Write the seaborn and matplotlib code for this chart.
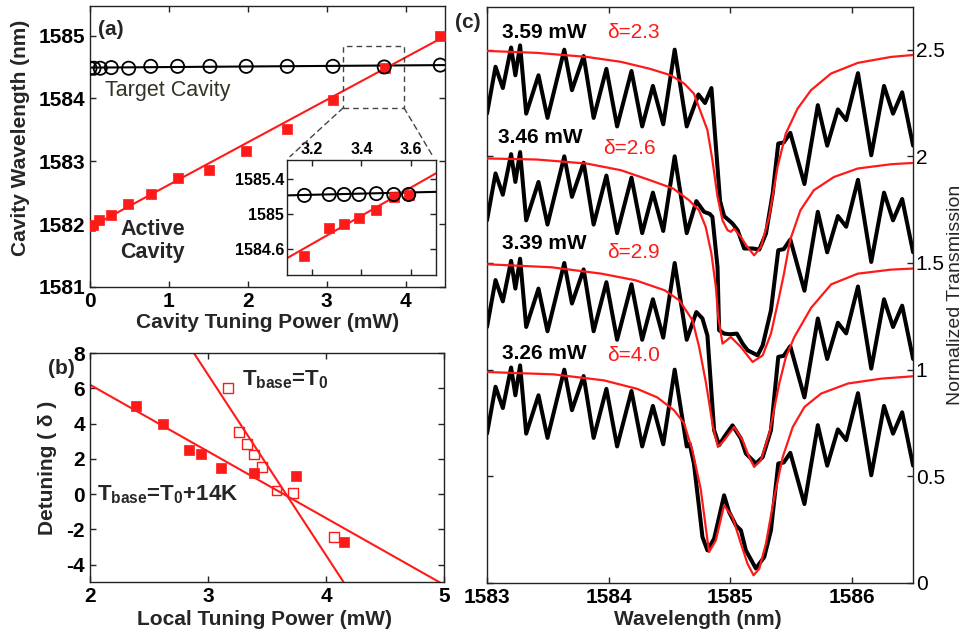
import seaborn as sns
import matplotlib.pyplot as plt
from matplotlib.patches import Rectangle, ConnectionPatch

# ---- (a) cavity wavelength vs cavity tuning power ----
target_power = [0.0, 0.05, 0.13, 0.27, 0.49, 0.77, 1.11, 1.52, 1.98, 2.50, 3.08, 3.73, 4.44]
target_wl = [1584.48, 1584.48, 1584.48, 1584.49, 1584.48, 1584.51, 1584.51, 1584.51,
             1584.51, 1584.51, 1584.51, 1584.50, 1584.53]
active_power = [0.0, 0.04, 0.12, 0.27, 0.48, 0.77, 1.11, 1.51, 1.98, 2.50, 3.08, 3.74, 4.44]
active_wl = [1581.97, 1581.99, 1582.06, 1582.14, 1582.32, 1582.48, 1582.74, 1582.86,
             1583.16, 1583.51, 1583.98, 1584.48, 1585.00]
fit_power = [0.0, 4.5]
target_fit = [1584.49, 1584.53]
active_fit = [1581.95, 1584.99]
zoom_power = [3.21, 3.98]
zoom_wl = [1583.85, 1584.83]

# inset of (a)
inset_power = [3.17, 3.27, 3.33, 3.39, 3.46, 3.53, 3.59]
inset_target_wl = [1585.21, 1585.22, 1585.22, 1585.22, 1585.23, 1585.22, 1585.22]
inset_active_wl = [1584.52, 1584.84, 1584.89, 1584.96, 1585.05, 1585.19, 1585.22]
inset_fit_power = [3.1, 3.7]
inset_target_fit = [1585.21, 1585.25]
inset_active_fit = [1584.50, 1585.46]

# ---- (b) detuning vs local tuning power ----
hot_power = [2.39, 2.62, 2.84, 2.94, 3.11, 3.39, 3.75, 4.15]
hot_detuning = [5.0, 4.0, 2.5, 2.3, 1.5, 1.2, 1.0, -2.7]
base_power = [3.17, 3.26, 3.33, 3.39, 3.46, 3.58, 3.72, 4.07]
base_detuning = [6.0, 3.5, 2.85, 2.25, 1.55, 0.2, 0.05, -2.45]
hot_fit_power = [2.0, 5.0]
hot_fit_detuning = [6.2, -5.14]
base_fit_power = [2.88, 4.15]
base_fit_detuning = [8.0, -5.0]

# ---- (c) transmission spectra (normalized, stacked) ----
fringe_left_wl = [1583.000, 1583.070, 1583.130, 1583.198, 1583.233, 1583.272, 1583.322,
                  1583.423, 1583.497, 1583.635, 1583.698, 1583.794, 1583.876, 1583.981,
                  1584.069, 1584.187, 1584.275, 1584.363, 1584.448, 1584.542, 1584.641]
fringe_left_t = [0.70, 0.92, 0.82, 1.01, 0.88, 1.02, 0.70, 0.88, 0.68, 1.00, 0.81,
                 0.97, 0.68, 0.91, 0.64, 0.90, 0.64, 0.83, 0.65, 1.00, 0.64]
fringe_right_wl = [1585.393, 1585.438, 1585.492, 1585.608, 1585.718, 1585.795, 1585.883,
                   1585.951, 1586.048, 1586.157, 1586.262, 1586.336, 1586.411, 1586.501]
fringe_right_t = [0.56, 0.565, 0.61, 0.37, 0.74, 0.55, 0.72, 0.67, 0.89, 0.505,
                  0.83, 0.70, 0.80, 0.55]

dip_wl_359 = [1584.737, 1584.791, 1584.844, 1584.915, 1584.948, 1585.017, 1585.059,
              1585.113, 1585.182, 1585.237, 1585.292, 1585.347]
dip_t_359 = [0.79, 0.75, 0.82, 0.29, 0.22, 0.185, 0.154, 0.068, 0.068, 0.063, 0.138, 0.326]
dip_wl_346 = [1584.720, 1584.783, 1584.830, 1584.852, 1584.894, 1584.907, 1584.948,
              1584.998, 1585.053, 1585.100, 1585.141, 1585.223, 1585.265, 1585.333]
dip_t_346 = [0.79, 0.74, 0.73, 0.716, 0.48, 0.185, 0.169, 0.166, 0.169, 0.122, 0.091,
             0.067, 0.114, 0.278]
dip_wl_339 = [1584.720, 1584.770, 1584.811, 1584.866, 1584.907, 1584.948, 1585.017,
              1585.086, 1585.127, 1585.209, 1585.265, 1585.333]
dip_t_339 = [0.77, 0.74, 0.66, 0.216, 0.146, 0.184, 0.239, 0.177, 0.107, 0.06, 0.09, 0.216]
dip_wl_326 = [1584.665, 1584.700, 1584.742, 1584.770, 1584.811, 1584.866, 1584.907,
              1584.948, 1584.989, 1585.045, 1585.086, 1585.127, 1585.209, 1585.278, 1585.333]
dip_t_326 = [0.653, 0.56, 0.356, 0.216, 0.153, 0.208, 0.309, 0.411, 0.333, 0.27, 0.247,
             0.153, 0.068, 0.122, 0.247]

fit_wl_359 = [1583.0, 1583.41, 1583.82, 1584.10, 1584.34, 1584.51, 1584.62, 1584.70,
              1584.74, 1584.811, 1584.852, 1584.894, 1584.935, 1584.976, 1585.003,
              1585.03, 1585.085, 1585.14, 1585.195, 1585.25, 1585.318, 1585.387,
              1585.455, 1585.552, 1585.662, 1585.826, 1586.046, 1586.319, 1586.5]
fit_t_359 = [0.994, 0.985, 0.966, 0.943, 0.91, 0.88, 0.841, 0.794, 0.732, 0.623, 0.482,
             0.31, 0.20, 0.154, 0.146, 0.161, 0.122, 0.075, 0.036, 0.075, 0.216, 0.45,
             0.607, 0.724, 0.81, 0.888, 0.938, 0.966, 0.975]
fit_wl_346 = [1583.0, 1583.41, 1583.82, 1584.10, 1584.34, 1584.53, 1584.66, 1584.742,
              1584.797, 1584.844, 1584.88, 1584.90, 1584.935, 1585.003, 1585.086,
              1585.182, 1585.265, 1585.333, 1585.40, 1585.44, 1585.49, 1585.575,
              1585.685, 1585.85, 1586.046, 1586.32, 1586.5]
fit_t_346 = [0.99, 0.985, 0.966, 0.935, 0.888, 0.849, 0.794, 0.747, 0.669, 0.544, 0.388,
             0.247, 0.122, 0.153, 0.106, 0.036, 0.067, 0.169, 0.341, 0.45, 0.607, 0.747,
             0.841, 0.903, 0.943, 0.963, 0.969]
fit_wl_339 = [1583.0, 1583.53, 1583.94, 1584.22, 1584.46, 1584.58, 1584.688, 1584.743,
              1584.80, 1584.857, 1584.897, 1584.948, 1585.03, 1585.10, 1585.154,
              1585.195, 1585.25, 1585.319, 1585.401, 1585.456, 1585.525, 1585.663,
              1585.828, 1586.046, 1586.32, 1586.5]
fit_t_339 = [0.994, 0.98, 0.95, 0.919, 0.872, 0.825, 0.732, 0.606, 0.435, 0.231, 0.138,
             0.169, 0.231, 0.169, 0.09, 0.044, 0.075, 0.20, 0.435, 0.56, 0.653, 0.79,
             0.90, 0.95, 0.969, 0.974]
fit_wl_326 = [1583.0, 1583.547, 1583.959, 1584.234, 1584.399, 1584.536, 1584.618,
              1584.688, 1584.756, 1584.80, 1584.824, 1584.88, 1584.948, 1585.017,
              1585.086, 1585.14, 1585.19, 1585.237, 1585.292, 1585.36, 1585.43,
              1585.512, 1585.608, 1585.745, 1585.965, 1586.24, 1586.5]
fit_t_326 = [0.989, 0.978, 0.95, 0.91, 0.87, 0.81, 0.75, 0.62, 0.44, 0.25, 0.145, 0.20,
             0.364, 0.309, 0.185, 0.091, 0.036, 0.067, 0.185, 0.403, 0.591, 0.731,
             0.825, 0.888, 0.935, 0.958, 0.969]

power_labels = ['3.59 mW', '3.46 mW', '3.39 mW', '3.26 mW']
delta_labels = ['δ=2.3', 'δ=2.6', 'δ=2.9', 'δ=4.0']
offsets = [1.5, 1.0, 0.5, 0.0]
dips = [(dip_wl_359, dip_t_359), (dip_wl_346, dip_t_346),
        (dip_wl_339, dip_t_339), (dip_wl_326, dip_t_326)]
fits = [(fit_wl_359, fit_t_359), (fit_wl_346, fit_t_346),
        (fit_wl_339, fit_t_339), (fit_wl_326, fit_t_326)]

RED = '#ff1a1a'

sns.set_style('ticks')
plt.rcParams['font.family'] = ['Liberation Sans', 'DejaVu Sans']
plt.rcParams['font.weight'] = 'bold'
plt.rcParams['axes.labelweight'] = 'bold'
plt.rcParams['axes.unicode_minus'] = False
plt.rcParams['mathtext.fontset'] = 'custom'
plt.rcParams['mathtext.rm'] = 'Liberation Sans:bold'
plt.rcParams['mathtext.it'] = 'Liberation Sans:bold'
plt.rcParams['mathtext.bf'] = 'Liberation Sans:bold'
plt.rcParams['axes.edgecolor'] = '#222222'
plt.rcParams['axes.linewidth'] = 1.0

fig = plt.figure(figsize=(9.7, 6.38), dpi=100)


def px_axes(left, top, right, bottom):
    return fig.add_axes([left / 970, 1 - bottom / 638, (right - left) / 970, (bottom - top) / 638])


def box_ticks(ax, size=15):
    ax.tick_params(direction='in', top=True, right=True, length=4, width=1,
                   labelsize=size, colors='#222222', labelcolor='black')


# ---------------- panel (a) ----------------
ax_a = px_axes(90, 6, 445, 287)
sns.lineplot(x=fit_power, y=target_fit, color='black', lw=1.5, ax=ax_a)
sns.lineplot(x=fit_power, y=active_fit, color=RED, lw=1.5, ax=ax_a)
sns.scatterplot(x=active_power, y=active_wl, marker='s', s=60, color=RED,
                edgecolor=RED, linewidth=0.5, ax=ax_a, zorder=3)
sns.scatterplot(x=target_power, y=target_wl, marker='o', s=90, facecolors='none',
                edgecolor='black', linewidth=1.3, ax=ax_a, zorder=4)
ax_a.set_xlim(0, 4.5)
ax_a.set_ylim(1581, 1585.47)
ax_a.set_xticks([0, 1, 2, 3, 4], ['0', '1', '2', '3', '4'])
ax_a.set_yticks([1581, 1582, 1583, 1584, 1585], ['1581', '1582', '1583', '1584', '1585'])
box_ticks(ax_a)
ax_a.set_xlabel('Cavity Tuning Power (mW)', fontsize=15)
ax_a.set_ylabel('Cavity Wavelength (nm)', fontsize=15)
ax_a.xaxis.set_label_coords(0.5, -0.093)
ax_a.yaxis.set_label_coords(-0.17, 0.53)
ax_a.text(0.023, 0.915, '(a)', transform=ax_a.transAxes, fontsize=15, va='center')
ax_a.text(0.042, 0.70, 'Target Cavity', transform=ax_a.transAxes, fontsize=15.5,
          fontweight='normal', color='#333326', va='center')
ax_a.text(0.085, 0.164, 'Active\nCavity', transform=ax_a.transAxes, fontsize=15.5,
          va='center', linespacing=1.1)
ax_a.add_patch(Rectangle((zoom_power[0], zoom_wl[0]), zoom_power[1] - zoom_power[0],
                         zoom_wl[1] - zoom_wl[0], fill=False, ls=(0, (4, 3)),
                         lw=1, ec='#444444', zorder=2))

# inset
ax_in = px_axes(287, 160, 436, 275)
sns.lineplot(x=inset_fit_power, y=inset_target_fit, color='black', lw=1.5, ax=ax_in)
sns.lineplot(x=inset_fit_power, y=inset_active_fit, color=RED, lw=1.5, ax=ax_in)
sns.scatterplot(x=inset_power, y=inset_active_wl, marker='s', s=60, color=RED,
                edgecolor=RED, linewidth=0.5, ax=ax_in, zorder=3)
sns.scatterplot(x=inset_power, y=inset_target_wl, marker='o', s=90, facecolors='none',
                edgecolor='black', linewidth=1.3, ax=ax_in, zorder=4)
ax_in.set_xlim(3.1, 3.7)
ax_in.set_ylim(1584.31, 1585.61)
ax_in.set_xticks([3.2, 3.4, 3.6], ['3.2', '3.4', '3.6'])
ax_in.set_yticks([1584.6, 1585.0, 1585.4], ['1584.6', '1585', '1585.4'])
box_ticks(ax_in, size=11.5)
ax_in.tick_params(labeltop=True, labelbottom=False, pad=2)
for xa, xb in [(zoom_power[0], 0.02), (zoom_power[1], 0.98)]:
    con = ConnectionPatch(xyA=(xa, zoom_wl[0]), coordsA='data', axesA=ax_a,
                          xyB=(xb, 1.03), coordsB='axes fraction', axesB=ax_in,
                          ls=(0, (4, 3)), lw=1, color='#444444')
    fig.add_artist(con)

# ---------------- panel (b) ----------------
ax_b = px_axes(90, 353, 444, 582.3)
sns.lineplot(x=hot_fit_power, y=hot_fit_detuning, color=RED, lw=1.5, ax=ax_b)
sns.lineplot(x=base_fit_power, y=base_fit_detuning, color=RED, lw=1.5, ax=ax_b)
sns.scatterplot(x=hot_power, y=hot_detuning, marker='s', s=50, color=RED,
                edgecolor=RED, linewidth=0.5, ax=ax_b, zorder=3)
sns.scatterplot(x=base_power, y=base_detuning, marker='s', s=50, facecolors='none',
                edgecolor=RED, linewidth=1.0, ax=ax_b, zorder=3)
ax_b.set_xlim(2, 5)
ax_b.set_ylim(-5, 8)
ax_b.set_xticks([2, 3, 4, 5], ['2', '3', '4', '5'])
ax_b.set_yticks([-4, -2, 0, 2, 4, 6, 8], ['-4', '-2', '0', '2', '4', '6', '8'])
box_ticks(ax_b)
ax_b.set_xlabel('Local Tuning Power (mW)', fontsize=15)
ax_b.set_ylabel('Detuning ( δ )', fontsize=15)
ax_b.xaxis.set_label_coords(0.494, -0.12)
ax_b.yaxis.set_label_coords(-0.093, 0.5)
ax_b.text(-0.119, 0.933, '(b)', transform=ax_b.transAxes, fontsize=15, va='center')
ax_b.text(0.429, 0.859, r'T$_{\mathrm{base}}$=T$_0$', transform=ax_b.transAxes,
          fontsize=16, va='baseline')
ax_b.text(0.02, 0.358, r'T$_{\mathrm{base}}$=T$_0$+14K', transform=ax_b.transAxes,
          fontsize=16, va='baseline')

# ---------------- panel (c) ----------------
ax_c = px_axes(487, 7, 913, 583)
for k in range(4):
    dwl, dt = dips[k]
    fwl, ft = fits[k]
    wl = fringe_left_wl + dwl + fringe_right_wl
    trans = [v + offsets[k] for v in fringe_left_t + dt + fringe_right_t]
    sns.lineplot(x=wl, y=trans, sort=False, estimator=None, color='black', lw=2.9,
                 solid_joinstyle='round', solid_capstyle='round', ax=ax_c, zorder=2)
    sns.lineplot(x=fwl, y=[v + offsets[k] for v in ft], sort=False, estimator=None,
                 color=RED, lw=1.6, solid_joinstyle='round', ax=ax_c, zorder=3)

label_pos = [(1583.12, 2.58, 1583.99, 2.58), (1583.09, 2.09, 1583.95, 2.035),
             (1583.12, 1.59, 1583.99, 1.55), (1583.12, 1.075, 1583.99, 1.067)]
for k, (px_, py_, dx_, dy_) in enumerate(label_pos):
    ax_c.text(px_, py_, power_labels[k], fontsize=15, va='center', color='black')
    ax_c.text(dx_, dy_, delta_labels[k], fontsize=15, fontweight='normal',
              va='center', color=RED)

ax_c.set_xlim(1583, 1586.5)
ax_c.set_ylim(0, 2.7)
ax_c.set_xticks([1583, 1584, 1585, 1586], ['1583', '1584', '1585', '1586'])
ax_c.set_yticks([0, 0.5, 1, 1.5, 2, 2.5], ['0', '0.5', '1', '1.5', '2', '2.5'])
box_ticks(ax_c)
ax_c.tick_params(axis='y', labelleft=False, labelright=True, pad=2)
for lab in ax_c.get_yticklabels():
    lab.set_fontweight('normal')
ax_c.yaxis.set_label_position('right')
ax_c.set_xlabel('Wavelength (nm)', fontsize=15)
ax_c.set_ylabel('Normalized Transmission', fontsize=14, fontweight='normal')
ax_c.xaxis.set_label_coords(0.495, -0.047)
ax_c.yaxis.set_label_coords(1.08, 0.5)
fig.text(455 / 970, 1 - 23 / 638, '(c)', fontsize=15, va='center')

fig.savefig('out.png', dpi=100)
